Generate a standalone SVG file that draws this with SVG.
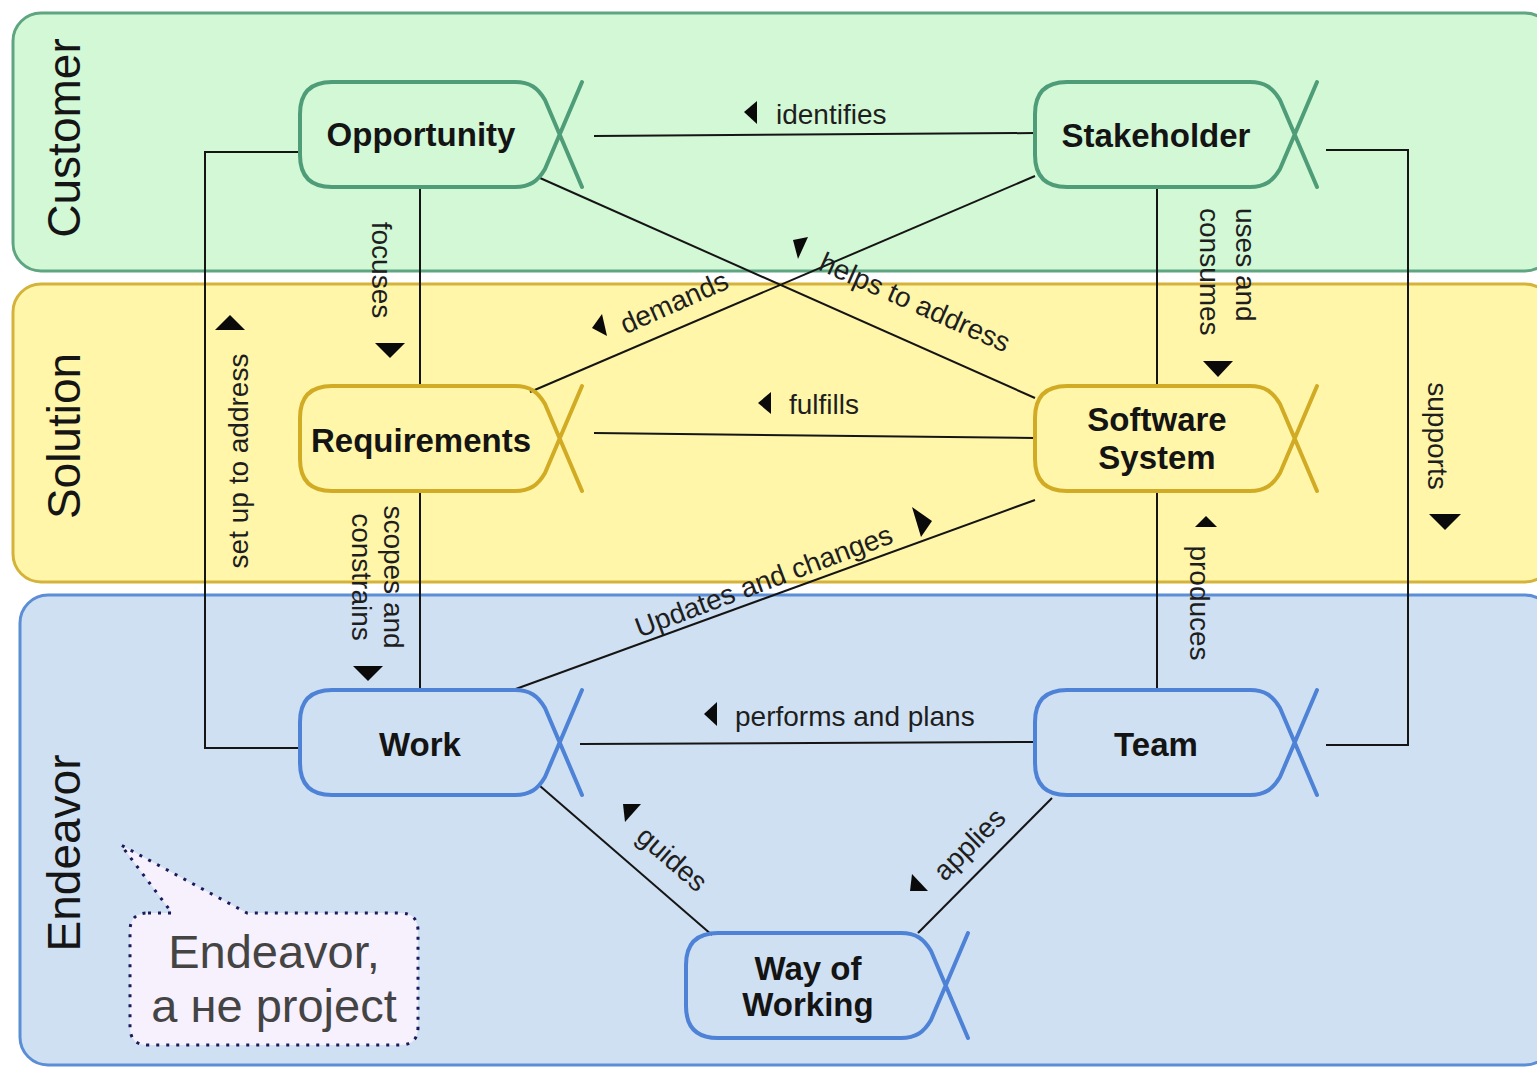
<svg xmlns="http://www.w3.org/2000/svg" xmlns:xlink="http://www.w3.org/1999/xlink" width="1537" height="1067" viewBox="0 0 1537 1067">
<style>
.lane{stroke-width:3}
.lanelbl{font-family:"Liberation Sans",Arial,sans-serif;font-size:46px;fill:#151515;text-anchor:middle}
.node{fill:none;stroke-width:4;stroke-linejoin:round;stroke-linecap:round}
.g{stroke:#4f9d78}
.y{stroke:#d2ab24}
.b{stroke:#4d82d6}
.nl{font-family:"Liberation Sans",Arial,sans-serif;font-weight:bold;font-size:33px;fill:#141414;text-anchor:middle}
.el{font-family:"Liberation Sans",Arial,sans-serif;font-size:28px;fill:#1e1e1e}
.c{fill:none;stroke:#151515;stroke-width:2}
.ah{fill:#0a0a0a}
.call{fill:#f7f0fd;stroke:#1b1b5c;stroke-width:3;stroke-dasharray:3 7}
.ct{font-family:"Liberation Sans",Arial,sans-serif;font-size:47px;fill:#444;text-anchor:middle}
</style>
<defs>
<path id="shape" d="M282,0 L245,87 C238,99 230,105 215,105 H32 Q0,105 0,73 V32 Q0,0 32,0 H215 C230,0 238,6 245,18 L282,105"/>
</defs>
<rect width="1537" height="1067" fill="#ffffff"/>
<g id="lane-customer">
<rect class="lane" x="13" y="13" width="1540" height="258" rx="28" fill="#d3f8d6" stroke="#5fa581"/>
<text class="lanelbl" transform="translate(80,138) rotate(-90)">Customer</text>
</g>
<g id="lane-solution">
<rect class="lane" x="13" y="284" width="1540" height="298" rx="28" fill="#fff6aa" stroke="#d5b33a"/>
<text class="lanelbl" transform="translate(80,436) rotate(-90)">Solution</text>
</g>
<g id="lane-endeavor">
<rect class="lane" x="20" y="595" width="1533" height="470" rx="28" fill="#cfe0f2" stroke="#5b8ed6"/>
<text class="lanelbl" transform="translate(80,853) rotate(-90)">Endeavor</text>
</g>
<g id="connectors">
<path class="c" d="M594,136 L1035,133"/>
<path class="c" d="M420,187 V386"/>
<path class="c" d="M420,491 V690"/>
<path class="c" d="M300,152 H205 V748 H300"/>
<path class="c" d="M540,178 L1035,398"/>
<path class="c" d="M1035,176 L530,392"/>
<path class="c" d="M1157,187 V386"/>
<path class="c" d="M1326,150 H1408 V745 H1326"/>
<path class="c" d="M594,433 L1035,438"/>
<path class="c" d="M1035,500 L513,690"/>
<path class="c" d="M1157,491 V690"/>
<path class="c" d="M580,744 L1035,742"/>
<path class="c" d="M540,786 L712,935"/>
<path class="c" d="M1052,798 L918,933"/>
<polygon class="ah" points="744,112 757,101 757,124"/>
<polygon class="ah" points="758,403 771,392 771,414"/>
<polygon class="ah" points="704,714 717,702 717,726"/>
<polygon class="ah" points="375,343 405,343 390,358"/>
<polygon class="ah" points="353,666 383,666 368,681"/>
<polygon class="ah" points="215,330 245,330 230,315"/>
<polygon class="ah" points="1203,361 1233,361 1218,377"/>
<polygon class="ah" points="1429,514 1461,514 1445,530"/>
<polygon class="ah" points="1195,527 1217,527 1206,516"/>
<polygon class="ah" points="912,507 932,521 921,537"/>
<polygon class="ah" points="793,240 808,237 798,259"/>
<polygon class="ah" points="592,328 602,314 607,336"/>
<polygon class="ah" points="623,804 641,804 625,822"/>
<polygon class="ah" points="910,891 912,874 928,891"/>
<text class="el" x="776" y="124">identifies</text>
<text class="el" x="789" y="414">fulfills</text>
<text class="el" x="735" y="726">performs and plans</text>
<text class="el" text-anchor="middle" transform="translate(372,270) rotate(90)">focuses</text>
<text class="el" text-anchor="middle" transform="translate(384,577) rotate(90)">scopes and</text>
<text class="el" text-anchor="middle" transform="translate(352,577) rotate(90)">constrains</text>
<text class="el" text-anchor="middle" transform="translate(248,461) rotate(-90)">set up to address</text>
<text class="el" transform="translate(1236,208) rotate(90)">uses and</text>
<text class="el" transform="translate(1200,208) rotate(90)">consumes</text>
<text class="el" text-anchor="middle" transform="translate(1428,436) rotate(90)">supports</text>
<text class="el" text-anchor="middle" transform="translate(1190,603) rotate(90)">produces</text>
<text class="el" text-anchor="middle" transform="translate(911,311) rotate(24)">helps to address</text>
<text class="el" text-anchor="middle" transform="translate(678,311) rotate(-24)">demands</text>
<text class="el" text-anchor="middle" transform="translate(767,590) rotate(-20.5)">Updates and changes</text>
<text class="el" text-anchor="middle" transform="translate(666,866) rotate(41)">guides</text>
<text class="el" text-anchor="middle" transform="translate(976,851) rotate(-45)">applies</text>
</g>
<g id="node-opportunity">
<use xlink:href="#shape" href="#shape" class="node g" x="300" y="82"/>
<text class="nl" x="421" y="146">Opportunity</text>
</g>
<g id="node-stakeholder">
<use xlink:href="#shape" href="#shape" class="node g" x="1035" y="82"/>
<text class="nl" x="1156" y="147">Stakeholder</text>
</g>
<g id="node-requirements">
<use xlink:href="#shape" href="#shape" class="node y" x="300" y="386"/>
<text class="nl" x="421" y="452">Requirements</text>
</g>
<g id="node-software-system">
<use xlink:href="#shape" href="#shape" class="node y" x="1035" y="386"/>
<text class="nl" x="1157" y="431">Software</text>
<text class="nl" x="1157" y="469">System</text>
</g>
<g id="node-work">
<use xlink:href="#shape" href="#shape" class="node b" x="300" y="690"/>
<text class="nl" x="420" y="756">Work</text>
</g>
<g id="node-team">
<use xlink:href="#shape" href="#shape" class="node b" x="1035" y="690"/>
<text class="nl" x="1156" y="756">Team</text>
</g>
<g id="node-way-of-working">
<use xlink:href="#shape" href="#shape" class="node b" x="686" y="933"/>
<text class="nl" x="808" y="980">Way of</text>
<text class="nl" x="808" y="1016">Working</text>
</g>
<g id="callout">
<path class="call" d="M148,913 H172 L121,845 L247,913 H400 Q418,913 418,931 V1027 Q418,1045 400,1045 H148 Q130,1045 130,1027 V931 Q130,913 148,913 Z"/>
<text class="ct" x="274" y="968">Endeavor,</text>
<text class="ct" x="274" y="1022">а не project</text>
</g>
</svg>
